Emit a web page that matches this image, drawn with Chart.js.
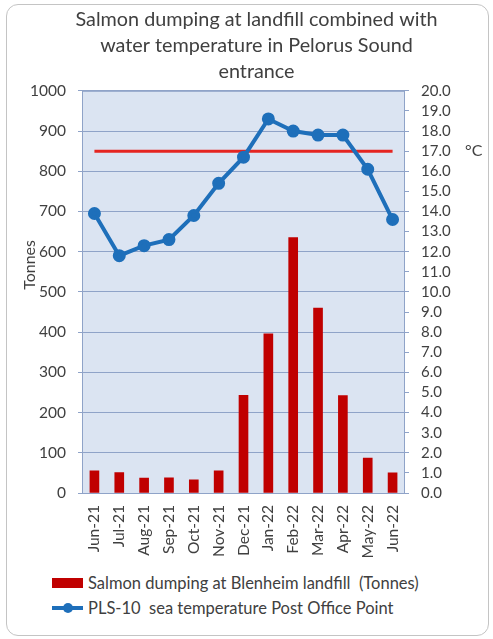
<!DOCTYPE html>
<html>
<head>
<meta charset="utf-8">
<script src="https://cdn.jsdelivr.net/npm/chart.js@4/dist/chart.umd.min.js"></script>
<style>
  body { margin: 0; background: #fff; font-family: Lato, "Open Sans", sans-serif; }
  #frame { position: absolute; left: 6px; top: 4px; width: 481px; height: 630px; border: 1px solid #c4c4c4; border-radius: 12px; }
  #wrap { position: absolute; left: 0; top: 0; width: 493px; height: 566px; }
  #legend { position: absolute; left: 52px; top: 570px; font-size: 16.5px; color: #404040; }
  .row { height: 25px; line-height: 22px; display: flex; align-items: center; }
  .swatch { width: 31px; height: 10px; margin-right: 5px; }
  .bar { background: #c00000; }
  .line { position: relative; }
  .line::before { content: ""; position: absolute; left: 0; right: 0; top: 3px; height: 4px; background: #1e6fba; }
  .line::after { content: ""; position: absolute; left: 11px; top: 0; width: 10px; height: 10px; border-radius: 50%; background: #1e6fba; }
</style>
</head>
<body>
<div id="frame"></div>
<div id="wrap"><canvas id="myChart"></canvas></div>
<div id="legend">
  <div class="row"><span class="swatch bar"></span>Salmon dumping at Blenheim landfill&nbsp; (Tonnes)</div>
  <div class="row"><span class="swatch line"></span>PLS-10&nbsp; sea temperature Post Office Point</div>
</div>
<script>
// Data

const months = ["Jun-21", "Jul-21", "Aug-21", "Sep-21", "Oct-21", "Nov-21", "Dec-21",
  "Jan-22", "Feb-22", "Mar-22", "Apr-22", "May-22", "Jun-22"];
const dumpedTonnes = [55, 51, 37, 38, 33, 55, 243, 396, 635, 460, 242, 87, 50];
const seaTemp = [13.9, 11.8, 12.3, 12.6, 13.8, 15.4, 16.7, 18.6, 18.0, 17.8, 17.8, 16.1, 13.6];
const thresholdTemp = [17, 17, 17, 17, 17, 17, 17, 17, 17, 17, 17, 17, 17];
const titleLines = ["Salmon dumping at landfill combined with", "water temperature in Pelorus Sound", "entrance"];

const textColor = "#404040";
const gridColor = "#8fa3c8";

// Plot background + border, axis titles "Tonnes" and "°C"

const plotArea = {
  id: "plotArea",
  beforeDraw: (chart) => {
    const { ctx, chartArea } = chart;
    ctx.save();
    ctx.fillStyle = "#dbe4f2";
    ctx.fillRect(chartArea.left, chartArea.top, chartArea.width, chartArea.height);
    ctx.restore();
  },
  afterDraw: (chart) => {
    const { ctx, chartArea } = chart;
    ctx.save();
    ctx.strokeStyle = gridColor;
    ctx.lineWidth = 1;
    ctx.strokeRect(chartArea.left + 0.5, chartArea.top + 0.5, chartArea.width - 1, chartArea.height);
    ctx.fillStyle = textColor;
    ctx.font = "16px Lato";
    ctx.textBaseline = "middle";
    ctx.fillText("°C", chartArea.right + 60, chart.scales.y1.getPixelForValue(17));
    // Tonnes, rotated
    ctx.translate(chartArea.left - 52, chart.scales.y.getPixelForValue(567));
    ctx.rotate(-Math.PI / 2);
    ctx.textAlign = "center";
    ctx.fillText("Tonnes", 0, 0);
    ctx.restore();
  },
};

const data = {
  labels: months,
  datasets: [
    {
      type: "line",
      label: "PLS-10  sea temperature Post Office Point",
      data: seaTemp,
      yAxisID: "y1",
      borderColor: "#1e6fba",
      backgroundColor: "#1e6fba",
      borderWidth: 4,
      pointRadius: 4.5,
      pointHoverRadius: 4.5,
      order: 1,
    },
    {
      type: "line",
      label: "threshold",
      data: thresholdTemp,
      yAxisID: "y1",
      borderColor: "#e52521",
      borderWidth: 3,
      pointRadius: 0,
      order: 2,
    },
    {
      type: "bar",
      label: "Salmon dumping at Blenheim landfill  (Tonnes)",
      data: dumpedTonnes,
      yAxisID: "y",
      backgroundColor: "#c00000",
      barThickness: 9,
      order: 3,
    },
  ],
};

const config = {
  data,
  options: {
    responsive: true,
    maintainAspectRatio: false,
    animation: false,
    layout: { padding: { left: 20 } },
    plugins: {
      legend: { display: false },
      tooltip: { enabled: false },
      title: {
        display: true,
        text: titleLines,
        color: textColor,
        font: { family: "Lato", size: 19.8, weight: "normal", lineHeight: 1.31 },
        padding: { top: 7, bottom: 6 },
      },
    },
    scales: {
      x: {
        grid: { display: false },
        border: { display: false },
        ticks: {
          color: textColor,
          font: { family: "Lato", size: 15.5 },
          minRotation: 90,
          maxRotation: 90,
          padding: 4,
        },
        afterFit: (s) => { s.height = 73; },
      },
      y: {
        position: "left",
        min: 0,
        max: 1000,
        ticks: {
          stepSize: 100,
          color: textColor,
          font: { family: "Lato", size: 15.5 },
          padding: 12,
          callback: (v) => String(v),
        },
        grid: { color: gridColor, tickLength: 4 },
        border: { display: false },
        afterFit: (s) => { s.width = 62; },
      },
      y1: {
        position: "right",
        min: 0,
        max: 20,
        ticks: {
          stepSize: 1,
          autoSkip: false,
          color: textColor,
          font: { family: "Lato", size: 15 },
          padding: 12,
          callback: (v) => v.toFixed(1),
        },
        grid: { drawOnChartArea: false, color: gridColor, tickLength: 4 },
        border: { display: false },
        afterFit: (s) => { s.width = 88; },
      },
    },
  },
  plugins: [plotArea],
};

const myChart = new Chart(document.getElementById("myChart"), config);
</script>
</body>
</html>
